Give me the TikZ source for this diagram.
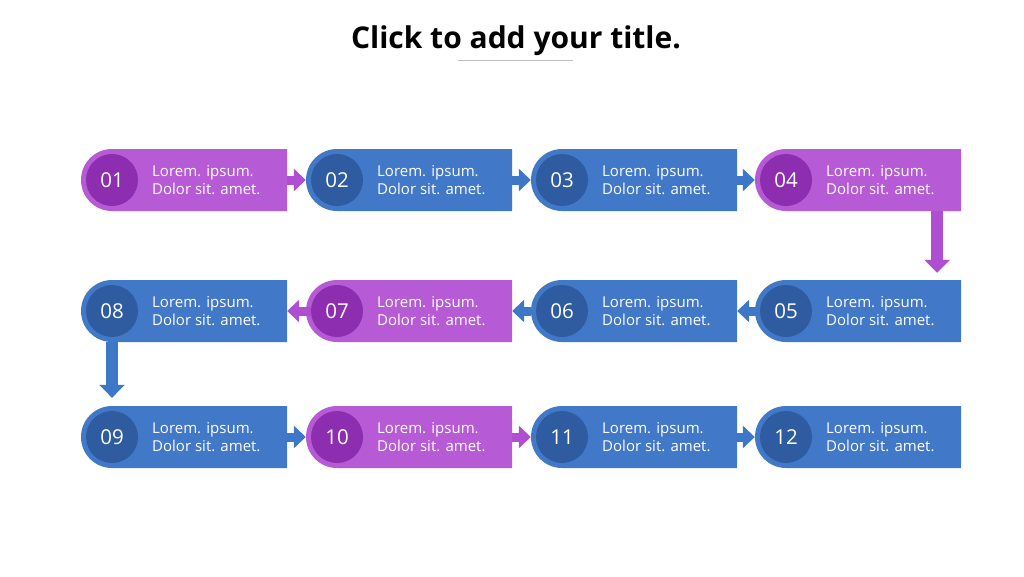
\documentclass[tikz,border=0pt]{standalone}
\usepackage{fontspec}
\setmainfont{Open Sans}
\usetikzlibrary{shapes.misc,arrows.meta}
\definecolor{pbox}{HTML}{B65AD6}
\definecolor{pcirc}{HTML}{8C2EAF}
\definecolor{bbox}{HTML}{4178C8}
\definecolor{bcirc}{HTML}{2F5CA0}
\definecolor{parr}{HTML}{B04ED2}
\definecolor{barr}{HTML}{3D77C8}
\tikzset{
  box/.style={rounded rectangle, rounded rectangle right arc=none, minimum width=206pt, minimum height=62pt, inner sep=0pt},
  num/.style={circle, minimum size=52pt, inner sep=0pt, text=white, font=\fontsize{20.5}{20}\selectfont},
  txt/.style={anchor=west, align=left, text=white, inner sep=0pt, font=\fontsize{15}{18}\selectfont},
  harr/.style={line width=9pt, -{Triangle[width=22pt,length=12pt]}},
  varr/.style={line width=12pt, -{Triangle[width=25pt,length=13pt]}},
}
\newcommand\procbox[5]{%
  \node[box, fill=#4box] (b#1) at (#2+72,#3) {};
  \node[num, fill=#4circ] (c#1) at (#2,#3) {#5};
  \node[txt] (t#1) at (#2+40,#3) {Lorem. ipsum.\\Dolor sit. amet.};
}
\begin{document}
\begin{tikzpicture}[x=1pt,y=-1pt]
\useasboundingbox[fill=white] (0,0) rectangle (1024,576);
\node[font=\bfseries\fontsize{30}{32}\selectfont] (title) at (516,41) {Click to add your title.};
\draw[draw=black!25, line width=1pt] (458,60) -- (573,60);
% row 1
\procbox{01}{112}{180}{p}{01}
\procbox{02}{337}{180}{b}{02}
\procbox{03}{562}{180}{b}{03}
\procbox{04}{786}{180}{p}{04}
% row 2
\procbox{05}{786}{311}{b}{05}
\procbox{06}{562}{311}{b}{06}
\procbox{07}{337}{311}{p}{07}
\procbox{08}{112}{311}{b}{08}
% row 3
\procbox{09}{112}{437}{b}{09}
\procbox{10}{337}{437}{p}{10}
\procbox{11}{562}{437}{b}{11}
\procbox{12}{786}{437}{b}{12}
% connectors
\draw[harr, parr] (b01.east) -- (b02.west);
\draw[harr, barr] (b02.east) -- (b03.west);
\draw[harr, barr] (b03.east) -- (b04.west);
\draw[varr, parr, shorten >=7pt] ([xshift=-24pt]b04.south east) -- ([xshift=-24pt]b04.south east |- b05.north);
\draw[harr, barr] (c05.west) -- (b06.east);
\draw[harr, barr] (b06.west) -- (b07.east);
\draw[harr, parr] (c07.west) -- (b08.east);
\draw[varr, barr, shorten >=8pt] (c08.center |- b08.south) -- (c08.center |- b09.north);
\draw[harr, barr] (b09.east) -- (b10.west);
\draw[harr, parr] (b10.east) -- (b11.west);
\draw[harr, barr] (b11.east) -- (b12.west);
\end{tikzpicture}
\end{document}
